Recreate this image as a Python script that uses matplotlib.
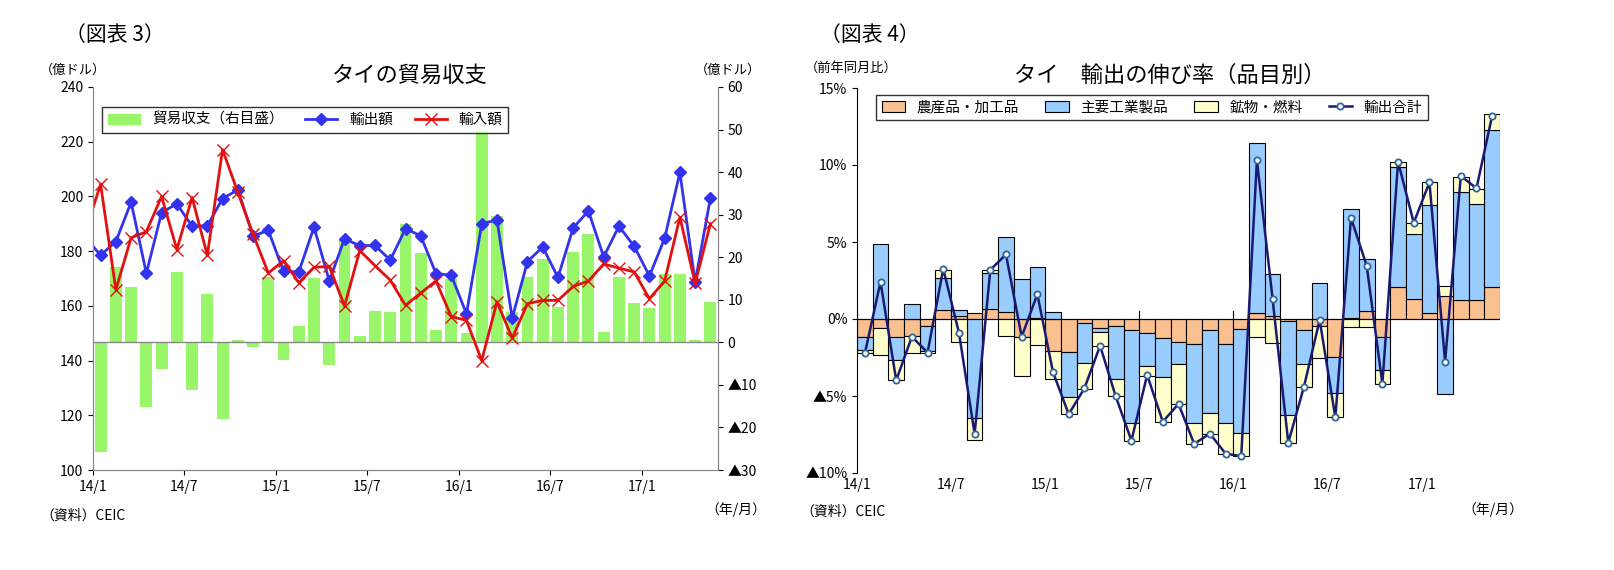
import matplotlib
matplotlib.use("Agg")
import matplotlib.pyplot as plt
import matplotlib.patches as mpatches
import numpy as np

plt.rcParams["font.family"] = ["Noto Sans CJK JP", "DejaVu Sans"]

months = [f"{y}/{m}" for y in (14, 15, 16, 17) for m in range(1, 13)][:41]
tick_labels = ["14/1", "14/7", "15/1", "15/7", "16/1", "16/7", "17/1"]

# Chart 3 (prior month 13/12 first for line continuity)
exports_prev = 185.0
imports_prev = 187.4
exports = [178.5, 183.5, 197.9, 171.9, 194.1, 197.3, 189.1, 189.3, 199.2, 202.4,
           185.5, 187.6, 172.6, 172.4, 188.8, 169.1, 184.5, 182.0, 182.1, 176.7,
           188.2, 185.6, 171.8, 171.2, 157.1, 190.0, 191.4, 155.5, 176.2, 181.5,
           170.4, 188.5, 194.7, 177.9, 189.1, 181.8, 170.9, 184.7, 208.8, 168.6, 199.4]
imports = [204.4, 165.9, 184.9, 187.1, 200.0, 180.6, 199.6, 178.5, 217.1, 201.5,
           186.2, 172.0, 176.5, 168.5, 174.1, 174.4, 160.0, 180.2, 174.7, 169.4,
           160.2, 164.7, 169.1, 156.1, 154.7, 140.0, 161.5, 148.2, 160.8, 162.0,
           162.0, 167.1, 169.1, 175.3, 173.8, 172.4, 162.6, 169.1, 192.4, 168.2, 190.0]
balance = [-25.7, 17.6, 12.9, -15.3, -6.2, 16.5, -11.2, 11.3, -18.1, 0.6,
           -1.1, 15.4, -4.2, 3.8, 15.1, -5.3, 24.1, 1.5, 7.4, 7.1,
           27.8, 21.0, 2.9, 14.8, 2.3, 49.9, 29.7, 7.2, 15.4, 19.6,
           8.3, 21.2, 25.4, 2.4, 15.4, 9.3, 8.1, 16.0, 16.1, 0.5, 9.4]

# Chart 4 (contributions, %)
agri = [-1.2, -0.57, -1.2, -1.1, -0.46, 0.59, 0.2, 0.38, 0.63, 0.44,
        -1.2, 0.05, -2.1, -2.16, -0.25, -0.57, -0.44, -0.73, -0.94, -1.26,
        -1.47, -1.64, -0.73, -1.64, -0.63, 0.38, 0.19, -0.1, -0.73, -0.44,
        -2.45, 0.05, 0.52, -1.15, 2.05, 1.3, 0.38, 1.51, 1.26, 1.26, 2.1]
indus = [-0.8, 4.84, -1.43, 1.0, -1.64, 2.05, 0.37, -6.4, 2.37, 4.9,
         2.58, 3.33, 0.44, -2.93, -2.58, -0.27, -3.48, -6.04, -2.14, -2.52,
         -1.43, -5.09, -5.35, -5.14, -6.79, 11.07, 2.7, -6.12, -2.22, 2.37,
         -2.37, 7.08, 3.38, -2.14, 7.8, 4.21, 7.02, -4.88, 6.98, 6.2, 10.2]
miner = [-0.2, -1.8, -1.36, -1.1, -0.08, 0.57, -1.47, -1.45, 0.21, -1.1,
         -2.5, -1.7, -1.82, -1.09, -1.72, -0.9, -1.11, -1.13, -0.59, -2.94,
         -2.62, -1.38, -1.4, -1.97, -1.49, -1.17, -1.57, -1.8, -1.45, -2.08,
         -1.57, -0.52, -0.52, -0.92, 0.34, 0.71, 1.47, 0.63, 1.0, 1.0, 1.0]
total = [-2.24, 2.41, -3.98, -1.15, -2.18, 3.25, -0.88, -7.46, 3.19, 4.19,
         -1.15, 1.61, -3.46, -6.18, -4.5, -1.74, -5.03, -7.9, -3.63, -6.67,
         -5.51, -8.11, -7.44, -8.74, -8.91, 10.31, 1.3, -8.03, -4.4, -0.06,
         -6.39, 6.56, 3.46, -4.21, 10.21, 6.25, 8.87, -2.77, 9.29, 8.49, 13.2]

fig = plt.figure(figsize=(16.14, 5.7), dpi=100)
x = np.arange(len(months))
tick_pos = [months.index(t) - 0.5 for t in tick_labels]

# ---------- Left chart ----------
ax = fig.add_axes([93/1614, 1-470/570, 625/1614, 383/570])
ax2 = ax.twinx()
ax.set_zorder(ax2.get_zorder() + 1)
ax.patch.set_visible(False)
ax2.bar(x, balance, width=0.78, color="#99F66B", zorder=1)
ax2.axhline(0, color="#888888", lw=1)
ax2.set_ylim(-30, 60)
ax2.set_yticks(range(-30, 61, 10))
ax2.set_yticklabels([("▲" + str(-v)) if v < 0 else str(v) for v in range(-30, 61, 10)], fontsize=10)
xe = np.concatenate([[-1], x])
l1, = ax.plot(xe, [exports_prev] + exports, color="#3333EE", marker="D", ms=6, lw=2, label="輸出額")
l2, = ax.plot(xe, [imports_prev] + imports, color="#E21010", marker="x", ms=8, lw=2, label="輸入額")
ax.set_ylim(100, 240)
ax.set_xlim(-0.5, 40.5)
ax.set_yticks(range(100, 241, 20))
ax.tick_params(labelsize=10)
ax.set_xticks(tick_pos)
ax.set_xticklabels(tick_labels, fontsize=10)
for a in (ax, ax2):
    a.spines["top"].set_visible(False)
    for s in ("left", "right", "bottom"):
        a.spines[s].set_color("#888888")
h = [mpatches.Patch(color="#99F66B", label="貿易収支（右目盛）"), l1, l2]
leg = ax.legend(handles=h, loc="upper left", ncol=3, fontsize=10.5, frameon=True, fancybox=False,
                edgecolor="black", bbox_to_anchor=(0.01, 0.955), borderaxespad=0.2, handlelength=2.2,
                columnspacing=1.5)
leg.get_frame().set_linewidth(1)

fig.text(65/1614, 1-35/570, "（図表 3）", fontsize=15, va="center")
fig.text(410/1614, 1-75/570, "タイの貿易収支", fontsize=16, ha="center", va="center")
fig.text(40/1614, 1-70/570, "（億ドル）", fontsize=9.5, va="center")
fig.text(695/1614, 1-70/570, "（億ドル）", fontsize=9.5, va="center")
fig.text(40/1614, 1-516/570, "（資料）CEIC", fontsize=10, va="center")
fig.text(705/1614, 1-510/570, "（年/月）", fontsize=10, va="center")

# ---------- Right chart ----------
bx = fig.add_axes([857/1614, 1-473/570, 643/1614, 385/570])
pos_base = np.zeros(len(x)); neg_base = np.zeros(len(x))
handles = []
for vals, col, lab in ((agri, "#FAC090", "農産品・加工品"), (indus, "#99CCFF", "主要工業製品"),
                       (miner, "#FFFFCC", "鉱物・燃料")):
    v = np.array(vals)
    base = np.where(v >= 0, pos_base, neg_base)
    bc = bx.bar(x, v, bottom=base, width=1.0, color=col, edgecolor="black", lw=0.8, label=lab, zorder=2)
    handles.append(bc)
    pos_base = pos_base + np.where(v >= 0, v, 0)
    neg_base = neg_base + np.where(v < 0, v, 0)
ln, = bx.plot(x, total, color="#1A1A70", lw=1.8, marker="o", ms=4.5, mfc="white", mec="#336699",
              mew=1.3, label="輸出合計", zorder=3)
handles.append(ln)
bx.axhline(0, color="black", lw=0.8, zorder=2.5)
bx.set_xlim(-0.5, 40.5)
bx.set_ylim(-10, 15)
bx.set_yticks(range(-10, 16, 5))
bx.set_yticklabels([("▲" + str(-v) + "%") if v < 0 else f"{v}%" for v in range(-10, 16, 5)], fontsize=10)
bx.set_xticks(tick_pos)
bx.set_xticklabels(tick_labels, fontsize=10)
bx.tick_params(axis="x", length=0)
for s in ("top", "right", "bottom"):
    bx.spines[s].set_visible(False)
for tp in tick_pos:
    bx.plot([tp, tp], [0, 0.5], color="black", lw=0.8, zorder=2.6)
leg2 = bx.legend(handles=handles, loc="upper left", ncol=4, fontsize=10.5, frameon=True, fancybox=False,
                 edgecolor="black", bbox_to_anchor=(0.025, 0.99), borderaxespad=0.2, handlelength=1.6,
                 columnspacing=1.8)
leg2.get_frame().set_linewidth(1)

fig.text(820/1614, 1-35/570, "（図表 4）", fontsize=15, va="center")
fig.text(1170/1614, 1-75/570, "タイ　輸出の伸び率（品目別）", fontsize=16, ha="center", va="center")
fig.text(805/1614, 1-68/570, "（前年同月比）", fontsize=9.5, va="center")
fig.text(800/1614, 1-512/570, "（資料）CEIC", fontsize=10, va="center")
fig.text(1462/1614, 1-510/570, "（年/月）", fontsize=10, va="center")

fig.savefig("out.png", dpi=100)
